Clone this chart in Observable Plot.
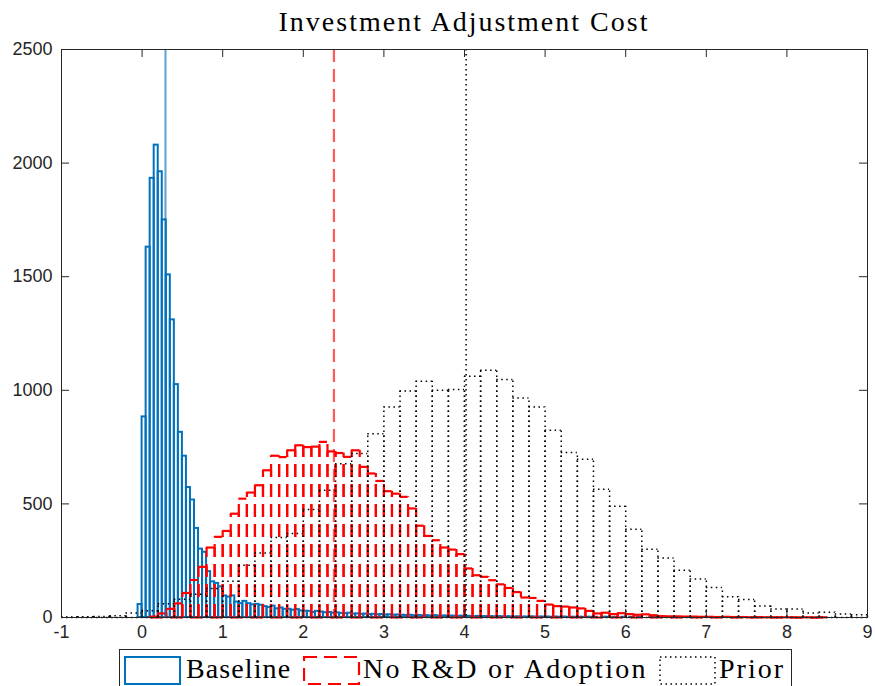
<!DOCTYPE html>
<html>
<head>
<meta charset="utf-8">
<script src="https://cdn.jsdelivr.net/npm/d3@7"></script>
<script src="https://cdn.jsdelivr.net/npm/@observablehq/plot@0.6"></script>
<style>
  html, body { margin: 0; padding: 0; background: #fff; }
  body { width: 875px; height: 686px; overflow: hidden; position: relative; }
  #title { position: absolute; left: 0; top: 8px; width: 928px; text-align: center;
           font-family: "Liberation Serif", serif; font-size: 28px; letter-spacing: 2px;
           line-height: 28px; color: #000; white-space: nowrap; }
  #chart { position: absolute; left: 0; top: 40px; }
  #legend { position: absolute; left: 119px; top: 649px; width: 671px; height: 50px;
            border: 1px solid #262626; background: #fff; }
  .lg { position: absolute; top: 0; }
  .lt { position: absolute; top: 5px; font-family: "Liberation Serif", serif; font-size: 28px;
        line-height: 28px; white-space: nowrap; color: #000; }
</style>
</head>
<body>
<div id="title">Investment Adjustment Cost</div>
<div id="chart"></div>
<div id="legend"></div>
<script>
// ---------- data ----------
const seriesNames = ["Baseline", "No R&D or Adoption", "Prior"];
const seriesColors = ["#0072BD", "#FF0000", "#000000"];

// Baseline histogram: bins of width 0.05 starting at -0.05
const blueStart = -0.05, blueWidth = 0.05;
const blueCounts = [
  57, 883, 1630, 1933, 2079, 1962, 1750, 1508, 1310, 1025,
  815, 710, 572, 517, 392, 301, 287, 202, 157, 150,
  135, 95, 90, 95, 68, 61, 71, 61, 56,
  58, 54, 48, 44, 50, 38, 42, 36, 36, 32,
  35, 29, 28, 27, 22, 27, 24, 21, 22, 19,
  20, 18, 17, 19, 15, 16, 14, 15, 13, 14,
  12, 13, 11, 12, 10, 11, 10, 9, 10, 8,
  9, 8, 8, 7, 8, 7, 6, 7, 6, 6,
  5, 6, 5, 5, 4, 5, 4, 4, 4, 3,
  4, 3, 3, 3, 2, 3, 2, 2, 3, 2,
  2, 2, 2, 1, 2, 1, 2, 1, 1, 1,
  1, 1, 1, 1, 1, 0, 1, 1, 0, 1,
  0, 1, 0, 1, 0, 1, 0, 0, 1, 1
];

// No R&D or Adoption histogram: bins of width 0.1 starting at 0.1
const redStart = 0.1, redWidth = 0.1;
const redCounts = [
  4, 18, 38, 62, 108, 165, 223, 308, 355, 381,
  457, 523, 550, 582, 648, 712, 706, 736, 758, 750,
  752, 773, 731, 724, 707, 736, 663, 634, 601, 556,
  545, 531, 480, 404, 359, 340, 308, 299, 279, 216,
  186, 179, 164, 146, 130, 112, 88, 86, 73, 57,
  50, 48, 44, 40, 29, 18, 21, 15, 19, 15,
  12, 14, 10, 6, 5, 5, 4, 4, 3, 3,
  2, 3, 2, 2, 1, 2, 1, 1, 1, 1,
  0, 1, 0, 1
];

// Prior histogram: bins of width 0.2 starting at -1.0
const priorStart = -1.0, priorWidth = 0.2;
const priorCounts = [
  2, 3, 4, 8, 20, 30, 60, 80, 102, 128,
  160, 230, 284, 352, 370, 475, 560, 677, 722, 809,
  927, 997, 1040, 1000, 1004, 1062, 1088, 1047, 966, 927,
  824, 726, 696, 564, 490, 388, 300, 262, 208, 170,
  132, 91, 79, 51, 37, 37, 20, 23, 15, 12
];

// vertical reference lines (one per series)
const refLines = [0.29, 2.38, 4.02];

const xTicks = [-1, 0, 1, 2, 3, 4, 5, 6, 7, 8, 9];
const yTicks = [0, 500, 1000, 1500, 2000, 2500];
const xDomain = [-1, 9];
const yDomain = [0, 2500];

// ---------- build ----------
const toBins = (start, w, counts) => counts.map((c, i) => ({
  x0: +(start + i * w).toFixed(4), x1: +(start + (i + 1) * w).toFixed(4), c
}));
const blue = toBins(blueStart, blueWidth, blueCounts);
const red = toBins(redStart, redWidth, redCounts);
const prior = toBins(priorStart, priorWidth, priorCounts);

const W = 875, H = 606, mL = 61, mR = 8, mT = 9, mB = 29;
const frameW = W - mL - mR, frameH = H - mT - mB;
const axisColor = "#262626";

const redStyle = { stroke: seriesColors[1], strokeWidth: 2.2, strokeDasharray: "13,7" };
const dotStyle = { stroke: seriesColors[2], strokeWidth: 1.5, strokeDasharray: "1.5,3.5" };

function edgeMarks(bins, style) {
  return [
    Plot.ruleX(bins, { x: "x0", y1: 0, y2: "c", ...style }),
    Plot.ruleX(bins, { x: "x1", y1: 0, y2: "c", ...style }),
    Plot.ruleY(bins, { y: "c", x1: "x0", x2: "x1", ...style }),
    Plot.ruleY([0], { x1: bins[0].x0, x2: bins[bins.length - 1].x1, ...style })
  ];
}

const chart = Plot.plot({
  width: W, height: H,
  marginLeft: mL, marginRight: mR, marginTop: mT, marginBottom: mB,
  x: { domain: xDomain },
  y: { domain: yDomain },
  style: { fontFamily: "'Liberation Sans', Arial, sans-serif", fontSize: "18px", color: axisColor, background: "white" },
  marks: [
    Plot.rectY(blue, { x1: "x0", x2: "x1", y1: 0, y2: "c", fill: "none", stroke: seriesColors[0], strokeWidth: 2 }),
    ...edgeMarks(red, redStyle),
    ...edgeMarks(prior, dotStyle),
    Plot.ruleX([refLines[0]], { stroke: seriesColors[0], strokeOpacity: 0.65, strokeWidth: 2 }),
    Plot.ruleX([refLines[1]], { ...redStyle, strokeOpacity: 0.65 }),
    Plot.ruleX([refLines[2]], { ...dotStyle }),
    // inward ticks on all four sides
    Plot.ruleX(xTicks, { insetTop: frameH - 8, stroke: axisColor }),
    Plot.ruleX(xTicks, { insetBottom: frameH - 8, stroke: axisColor }),
    Plot.ruleY(yTicks, { insetRight: frameW - 8, stroke: axisColor }),
    Plot.ruleY(yTicks, { insetLeft: frameW - 8, stroke: axisColor }),
    Plot.frame({ stroke: axisColor, strokeWidth: 1 }),
    Plot.axisX(xTicks, { tickSize: 0, tickPadding: 8, label: null, tickFormat: d => String(d), fontSize: 18 }),
    Plot.axisY(yTicks, { tickSize: 0, tickPadding: 9, label: null, tickFormat: d => String(d), fontSize: 18 })
  ]
});
document.getElementById("chart").appendChild(chart);

// ---------- legend ----------
const legend = document.getElementById("legend");
const swatchDash = ["none", "13,7", "1.5,3.5"];
const swatchWidth = [2, 2.2, 1.5];
const swatchX = [4, 183, 539];     // relative to legend box
const textX = [66, 243, 599];
const textSpacing = [1.1, 2.3, 2.0];
seriesNames.forEach((name, i) => {
  const s = document.createElementNS("http://www.w3.org/2000/svg", "svg");
  s.setAttribute("width", 58); s.setAttribute("height", 36);
  s.setAttribute("class", "lg");
  s.style.left = swatchX[i] + "px"; s.style.top = "6px";
  const r = document.createElementNS("http://www.w3.org/2000/svg", "rect");
  r.setAttribute("x", 1); r.setAttribute("y", 1); r.setAttribute("width", 55); r.setAttribute("height", 27);
  r.setAttribute("fill", "none"); r.setAttribute("stroke", seriesColors[i]);
  r.setAttribute("stroke-width", swatchWidth[i]);
  if (swatchDash[i] !== "none") r.setAttribute("stroke-dasharray", swatchDash[i]);
  s.appendChild(r);
  legend.appendChild(s);
  const t = document.createElement("div");
  t.className = "lt"; t.textContent = name; t.style.left = textX[i] + "px";
  t.style.letterSpacing = textSpacing[i] + "px";
  legend.appendChild(t);
});
</script>
</body>
</html>
